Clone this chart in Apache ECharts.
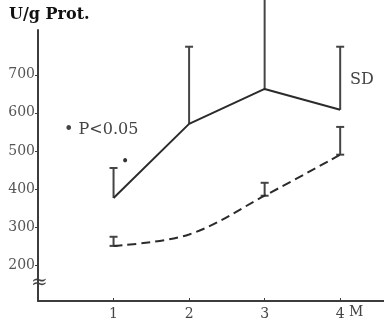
<!DOCTYPE html>
<html>
<head>
<meta charset="utf-8">
<script src="https://cdn.jsdelivr.net/npm/echarts@6/dist/echarts.min.js"></script>
<style>
  html, body { margin: 0; padding: 0; background: #fff; }
  #chart { width: 384px; height: 324px; }
</style>
</head>
<body>
<div id="chart"></div>
<script>
// months (x positions)
var months = [1, 2, 3, 4];
// solid line: mean and top of SD bar
var solidMean = [376, 571, 663, 608];
var solidSD = [455, 774, 900, 774];
// dashed line: mean and top of SD bar (no bar at month 2)
var dashMean = [250, 280, 382, 490];
var dashSD = [274, null, 416, 563];
var yTicks = [200, 300, 400, 500, 600, 700];

var chart = echarts.init(document.getElementById('chart'));

var serif = '"DejaVu Serif", "Liberation Serif", serif';
var axisCol = '#3c3c3c';
var lineCol = '#2b2b2b';

function pairs(vals) {
  return months.map(function (m, i) { return [m, vals[i]]; });
}

function errData(mean, top, lowCap) {
  var out = [];
  months.forEach(function (m, i) {
    if (top[i] != null) out.push([m, mean[i], top[i], lowCap ? 1 : 0]);
  });
  return out;
}

function renderErr(params, api) {
  var p0 = api.coord([api.value(0), api.value(1)]);
  var p1 = api.coord([api.value(0), api.value(2)]);
  var w = 4;
  var style = { stroke: '#444', lineWidth: 2 };
  var kids = [
    { type: 'line', shape: { x1: p0[0], y1: p0[1], x2: p1[0], y2: p1[1] }, style: style },
    { type: 'line', shape: { x1: p1[0] - w, y1: p1[1], x2: p1[0] + w, y2: p1[1] }, style: style }
  ];
  if (api.value(3)) {
    kids.push({ type: 'line', shape: { x1: p0[0] - w, y1: p0[1], x2: p0[0] + w, y2: p0[1] }, style: style });
  }
  return { type: 'group', children: kids };
}

chart.setOption({
  animation: false,
  grid: { left: 38, right: 0, top: 30, bottom: 23, outerBoundsMode: 'none' },
  xAxis: {
    type: 'value',
    min: 0,
    max: 4.58,
    splitLine: { show: false },
    axisLine: { lineStyle: { color: axisCol, width: 2 } },
    axisTick: { inside: true, length: 3, customValues: months, lineStyle: { color: axisCol } },
    axisLabel: {
      customValues: months,
      color: '#444',
      fontFamily: serif,
      fontSize: 14,
      margin: 6
    }
  },
  yAxis: {
    type: 'value',
    min: 105,
    max: 818,
    splitLine: { show: false },
    axisLine: { show: true, lineStyle: { color: axisCol, width: 2 } },
    axisTick: { show: true, length: 3, customValues: yTicks, lineStyle: { color: axisCol } },
    axisLabel: {
      customValues: yTicks,
      color: '#555',
      fontFamily: serif,
      fontSize: 14,
      margin: 3
    }
  },
  graphic: [
    { type: 'text', left: 9, top: 7, style: { text: 'U/g Prot.', font: 'bold 16px ' + serif, fill: '#111' } },
    { type: 'text', left: 64, top: 122, style: { text: '• P<0.05', font: '16px ' + serif, fill: '#444' } },
    { type: 'text', left: 350, top: 72, style: { text: 'SD', font: '16px ' + serif, fill: '#444' } },
    { type: 'text', left: 121, top: 155, style: { text: '•', font: '14px ' + serif, fill: '#333' } },
    { type: 'text', left: 349, top: 305, style: { text: 'M', font: '14px ' + serif, fill: '#444' } },
    { type: 'rect', shape: { x: 32, y: 281, width: 14, height: 10 }, style: { fill: '#fff' } },
    { type: 'text', left: 31, top: 273, style: { text: '≈', font: '20px ' + serif, fill: '#444' } }
  ],
  series: [
    {
      type: 'line',
      data: pairs(solidMean),
      symbol: 'none',
      lineStyle: { color: lineCol, width: 2 }
    },
    {
      type: 'line',
      data: pairs(dashMean),
      symbol: 'none',
      smooth: 0.35,
      lineStyle: { color: lineCol, width: 2, type: [9, 5] }
    },
    {
      type: 'custom',
      data: errData(solidMean, solidSD, false),
      renderItem: renderErr,
      clip: false
    },
    {
      type: 'custom',
      data: errData(dashMean, dashSD, true),
      renderItem: renderErr,
      clip: false
    }
  ]
});
</script>
</body>
</html>
